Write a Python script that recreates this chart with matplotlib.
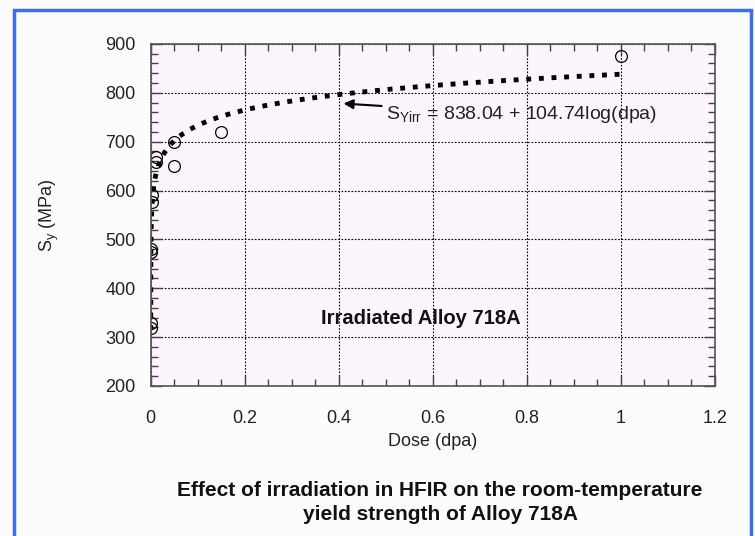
import numpy as np
import matplotlib.pyplot as plt
from matplotlib.patches import Rectangle
from matplotlib.ticker import MultipleLocator

plt.rcParams['font.family'] = ['Liberation Sans', 'DejaVu Sans']
plt.rcParams['mathtext.fontset'] = 'custom'
plt.rcParams['mathtext.rm'] = 'Liberation Sans'

# Measured yield strength data
dose = [0.0, 0.0, 0.0, 0.0, 0.002, 0.002, 0.011, 0.011, 0.05, 0.05, 0.15, 1.0]
sy = [318, 328, 475, 481, 577, 590, 659, 669, 700, 650, 720, 875]

# Fit: S_Yirr = 838.04 + 104.74 log(dpa)
fit_a = 838.04
fit_b = 104.74
fit_dose = np.logspace(-5, 0, 400)
fit_sy = fit_a + fit_b * np.log10(fit_dose)

fig = plt.figure(figsize=(7.55, 5.36), dpi=100, facecolor='#fcfcfc')
ax = fig.add_axes([0.1996, 0.280, 0.7474, 0.638])
ax.set_facecolor('#fdf5fd')

ax.plot(fit_dose, fit_sy, color='black', linewidth=3.5, dashes=(1.0, 1.6))
ax.plot(dose, sy, 'o', markerfacecolor='none', markeredgecolor='black',
        markersize=8.5, markeredgewidth=0.9)

ax.set_xlim(0, 1.2)
ax.set_ylim(200, 900)
ax.xaxis.set_minor_locator(MultipleLocator(0.05))
ax.yaxis.set_major_locator(MultipleLocator(100))
ax.yaxis.set_minor_locator(MultipleLocator(20))
ax.set_xticks([0, 0.2, 0.4, 0.6, 0.8, 1.0, 1.2])
ax.set_xticklabels(['0', '0.2', '0.4', '0.6', '0.8', '1', '1.2'])
ax.tick_params(which='both', direction='in', top=True, right=True,
               labelsize=13, color='#444444', labelcolor='#222222')
ax.tick_params(which='major', length=8, width=1)
ax.tick_params(which='minor', length=5, width=1)
ax.tick_params(axis='x', pad=17)
ax.tick_params(axis='y', pad=11)
for s in ax.spines.values():
    s.set_color('#555555')
    s.set_linewidth(1.2)

ax.grid(True, which='major', color='black', linestyle=(0, (1.5, 1.5)), linewidth=0.8)

ax.set_xlabel('Dose (dpa)', fontsize=13, labelpad=5, color='#222222')
ax.set_ylabel(r'S$_{\rm y}$ (MPa)', fontsize=13, labelpad=32, color='#222222')

ax.annotate(r'S$_{\rm Yirr}$ = 838.04 + 104.74log(dpa)', xy=(0.41, 778), xytext=(0.50, 755),
            fontsize=14, va='center', ha='left', color='#222222',
            arrowprops=dict(arrowstyle='-|>', color='black', lw=1.5, mutation_scale=14,
                            shrinkA=1, shrinkB=0))

ax.text(0.575, 338, 'Irradiated Alloy 718A', fontsize=14.5, fontweight='bold',
        ha='center', va='center', color='#111111')

fig.text(0.583, 0.063, 'Effect of irradiation in HFIR on the room-temperature\nyield strength of Alloy 718A',
         ha='center', va='center', fontsize=15, fontweight='bold', linespacing=1.35,
         color='#111111')

# Blue frame around the slide panel
fig.patches.append(Rectangle((14 / 755, -0.05), 737 / 755, 1.05 - 10 / 536,
                             transform=fig.transFigure, fill=False,
                             edgecolor='#3d6ef0', linewidth=2.5))

fig.savefig('out.png', dpi=100, facecolor=fig.get_facecolor())
